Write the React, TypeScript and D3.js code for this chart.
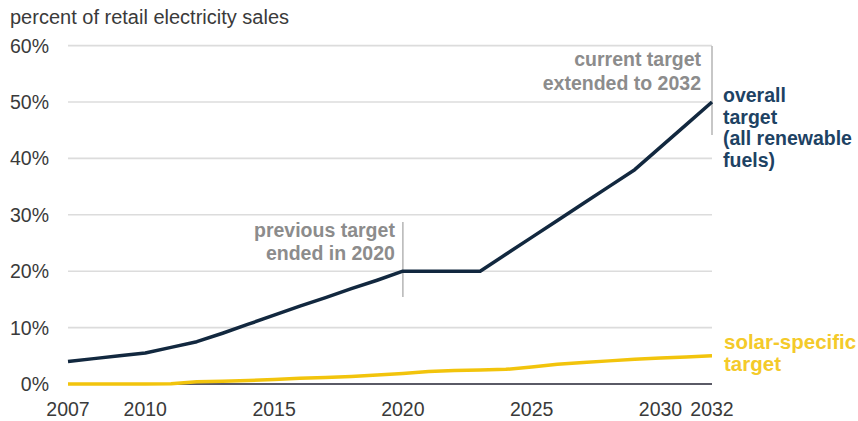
import React from "react";
import * as d3 from "d3";

const years: number[] = [2007, 2008, 2009, 2010, 2011, 2012, 2013, 2014, 2015, 2016, 2017, 2018, 2019, 2020, 2021, 2022, 2023, 2024, 2025, 2026, 2027, 2028, 2029, 2030, 2031, 2032];
const overallTarget: number[] = [4, 4.5, 5, 5.5, 6.5, 7.5, 9, 10.6, 12.2, 13.8, 15.3, 16.9, 18.4, 20, 20, 20, 20, 23, 26, 29, 32, 35, 38, 42, 46, 50];
const solarTarget: number[] = [0, 0, 0, 0.02, 0.04, 0.4, 0.5, 0.6, 0.8, 1.0, 1.15, 1.35, 1.6, 1.85, 2.2, 2.4, 2.5, 2.6, 3.0, 3.5, 3.8, 4.1, 4.4, 4.6, 4.8, 5.0];
const yTicks: number[] = [0, 10, 20, 30, 40, 50, 60];
const xTicks: number[] = [2007, 2010, 2015, 2020, 2025, 2030, 2032];
const title = "percent of retail electricity sales";
const overallLabel: string[] = ["overall", "target", "(all renewable", "fuels)"];
const solarLabel: string[] = ["solar-specific", "target"];
const prevNote: string[] = ["previous target", "ended in 2020"];
const prevNoteYear = 2020;
const currNote: string[] = ["current target", "extended to 2032"];
const currNoteYear = 2032;

const FONT = "'Liberation Sans', Arial, Helvetica, sans-serif";

export default function App() {
  const W = 858;
  const H = 421;
  const x = d3.scaleLinear().domain([2007, 2032]).range([68, 712]);
  const y = d3.scaleLinear().domain([0, 60]).range([384, 45.6]);

  const line = d3
    .line<number>()
    .x((_, i) => x(years[i]))
    .y((d) => y(d));

  const overallPath = line(overallTarget) || "";
  const solarPath = line(solarTarget) || "";

  const navy = "#12283f";
  const navyText = "#1d4263";
  const yellow = "#f2c40c";
  const yellowText = "#f4ca2a";
  const grey = "#8c8c8c";

  return (
    <svg
      width={W}
      height={H}
      style={{ position: "absolute", left: 0, top: 0, background: "#fff" }}
      fontFamily={FONT}
    >
      <text x={10} y={24} fontSize={20} fill="#3a3a3a">
        {title}
      </text>

      {yTicks.map((t) => (
        <g key={t}>
          {t !== 0 && (
            <line x1={x(2007)} x2={x(2032)} y1={y(t)} y2={y(t)} stroke="#dcdcdc" strokeWidth={1.6} />
          )}
          <text x={49} y={y(t) + 7} textAnchor="end" fontSize={19.5} fill="#3a3a3a">
            {t}%
          </text>
        </g>
      ))}

      {xTicks.map((t) => (
        <text key={t} x={x(t)} y={416} textAnchor="middle" fontSize={19.5} fill="#3a3a3a">
          {t}
        </text>
      ))}

      {/* annotation: previous target */}
      <line x1={x(prevNoteYear)} x2={x(prevNoteYear)} y1={222} y2={297} stroke="#b5b5b5" strokeWidth={1.5} />
      {prevNote.map((s, i) => (
        <text key={s} x={x(prevNoteYear) - 8} y={237 + i * 23} textAnchor="end" fontSize={19.5} fontWeight="bold" fill={grey}>
          {s}
        </text>
      ))}

      {/* annotation: current target */}
      <line x1={x(currNoteYear)} x2={x(currNoteYear)} y1={46} y2={135} stroke="#b5b5b5" strokeWidth={1.5} />
      {currNote.map((s, i) => (
        <text key={s} x={x(currNoteYear) - 11} y={66 + i * 24} textAnchor="end" fontSize={19.5} fontWeight="bold" fill={grey}>
          {s}
        </text>
      ))}

      {/* baseline axis */}
      <line x1={x(2007)} x2={x(2032)} y1={y(0)} y2={y(0)} stroke="#5a5a66" strokeWidth={1.8} />

      <path d={solarPath} fill="none" stroke={yellow} strokeWidth={3.5} strokeLinejoin="round" />
      <path d={overallPath} fill="none" stroke={navy} strokeWidth={3.5} strokeLinejoin="round" />

      {overallLabel.map((s, i) => (
        <text key={s} x={723} y={102 + i * 21.7} fontSize={19.5} fontWeight="bold" fill={navyText}>
          {s}
        </text>
      ))}
      {solarLabel.map((s, i) => (
        <text key={s} x={724} y={349 + i * 21.5} fontSize={20.5} fontWeight="bold" fill={yellowText}>
          {s}
        </text>
      ))}
    </svg>
  );
}
